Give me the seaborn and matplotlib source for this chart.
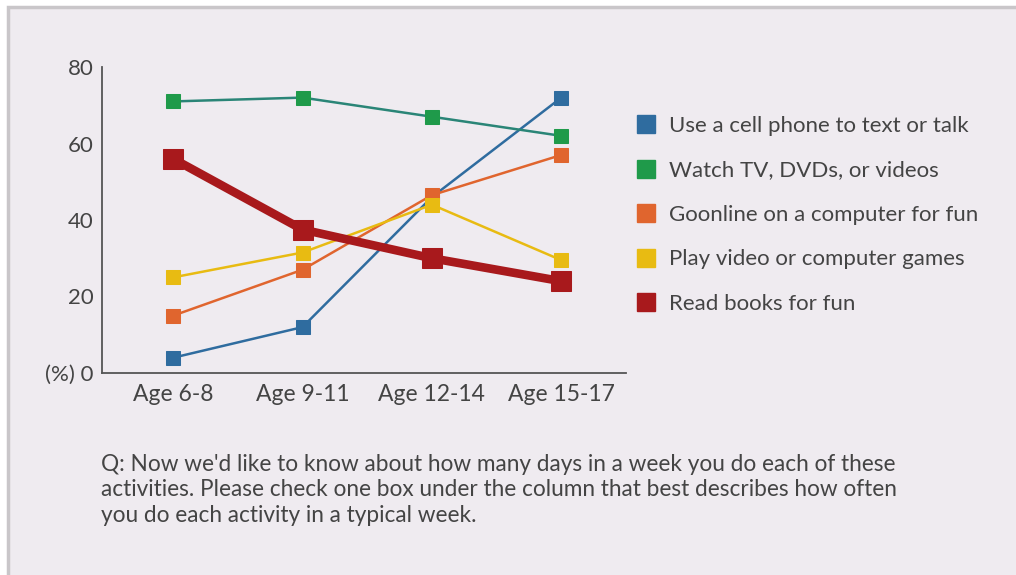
import pandas as pd
import matplotlib.pyplot as plt
import seaborn as sns
from matplotlib.lines import Line2D
from matplotlib.patches import Rectangle

# Data
ages = ["Age 6-8", "Age 9-11", "Age 12-14", "Age 15-17"]
phone = [4, 12, 46, 72]
tv = [71, 72, 67, 62]
online = [15, 27, 46.5, 57]
games = [25, 31.5, 44, 29.5]
books = [56, 37.5, 30, 24]

labels = ["Use a cell phone to text or talk", "Watch TV, DVDs, or videos",
          "Goonline on a computer for fun", "Play video or computer games",
          "Read books for fun"]
line_colors = ["#2f6c9f", "#2a8577", "#e0652e", "#e8bb12", "#a8191c"]
marker_colors = ["#2f6c9f", "#1f9a4a", "#e0652e", "#e8bb12", "#a8191c"]

df = pd.DataFrame({"age": ages * 5,
                   "value": phone + tv + online + games + books,
                   "activity": sum([[l] * 4 for l in labels], [])})

sns.set_style("white")
plt.rcParams["font.family"] = ["Lato", "DejaVu Sans"]
text_col = "#444444"

fig = plt.figure(figsize=(10.16, 5.75), dpi=100)
fig.patch.set_facecolor("white")
fig.patches.append(Rectangle((8 / 1016, -0.1), 1.2, 1 - 7 / 575 + 0.1,
                             transform=fig.transFigure, facecolor="#efebf0",
                             edgecolor="#c9c6c9", lw=2.5, zorder=-10))

ax = fig.add_axes([102 / 1016, 1 - 373 / 575, (626 - 102) / 1016, (373 - 67) / 575])
ax.set_facecolor("none")

for i, lab in enumerate(labels):
    sub = df[df["activity"] == lab]
    thick = lab == "Read books for fun"
    sns.lineplot(data=sub, x="age", y="value", ax=ax, color=line_colors[i],
                 lw=6.2 if thick else 1.8, marker="s",
                 markersize=14.5 if thick else 10,
                 markerfacecolor=marker_colors[i], markeredgecolor=marker_colors[i],
                 sort=False, zorder=3 + i)

ax.set_xlim(-0.55, 3.5)
ax.set_ylim(0, 80)
ax.set_yticks([0, 20, 40, 60, 80])
ax.set_yticklabels(["(%) 0", "20", "40", "60", "80"])
ax.set_xlabel("")
ax.set_ylabel("")
ax.tick_params(length=0, colors=text_col)
ax.tick_params(axis="y", pad=6, labelsize=16)
ax.tick_params(axis="x", pad=8, labelsize=16.5)
sns.despine(ax=ax)
for s in ["left", "bottom"]:
    ax.spines[s].set_color("#555555")
    ax.spines[s].set_linewidth(1.3)

handles = [Line2D([], [], ls="none", marker="s", markersize=13,
                  markerfacecolor=c, markeredgecolor=c) for c in marker_colors]
fig.legend(handles, labels, loc="upper left", bbox_to_anchor=(616 / 1016, 1 - 96 / 575),
           frameon=False, fontsize=16, labelspacing=1.1, handlelength=0.9,
           handletextpad=0.6, labelcolor=text_col)

fig.text(101 / 1016, 1 - 454 / 575,
         "Q: Now we'd like to know about how many days in a week you do each of these\n"
         "activities. Please check one box under the column that best describes how often\n"
         "you do each activity in a typical week.",
         ha="left", va="top", fontsize=16.3, color=text_col, linespacing=1.25)

plt.savefig("out.png", dpi=100)
plt.close()
